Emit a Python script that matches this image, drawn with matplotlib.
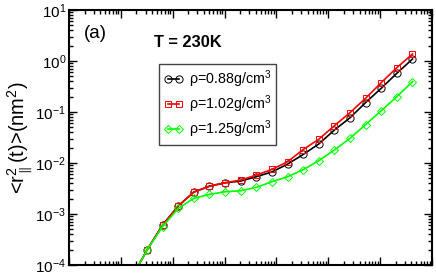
import matplotlib
matplotlib.use("Agg")
import matplotlib.pyplot as plt
from matplotlib.ticker import LogLocator, NullFormatter

plt.rcParams['font.family'] = ['Liberation Sans', 'DejaVu Sans']
plt.rcParams['mathtext.fontset'] = 'custom'
plt.rcParams['mathtext.rm'] = 'Liberation Sans'
plt.rcParams['mathtext.it'] = 'Liberation Sans'
plt.rcParams['mathtext.bf'] = 'Liberation Sans:bold'
plt.rcParams['mathtext.default'] = 'regular'

# time (ps), log spaced by 2
t = [0.016, 0.032, 0.064, 0.128, 0.256, 0.512, 1.024, 2.05, 4.1, 8.2,
     16.4, 32.8, 65.5, 131, 262, 524, 1049, 2097, 4194]

msd_088 = [5.5e-5, 1.97e-4, 6.1e-4, 1.44e-3, 2.7e-3, 3.5e-3, 4.1e-3, 4.43e-3,
           5.4e-3, 6.7e-3, 9.5e-3, 1.47e-2, 2.36e-2, 4.43e-2, 7.7e-2,
           0.153, 0.292, 0.574, 1.09]
msd_102 = [5.5e-5, 1.97e-4, 6.1e-4, 1.44e-3, 2.7e-3, 3.54e-3, 4.1e-3, 4.64e-3,
           5.8e-3, 7.5e-3, 1.06e-2, 1.84e-2, 2.92e-2, 5.4e-2, 9.7e-2,
           0.186, 0.376, 0.74, 1.37]
msd_125 = [5.5e-5, 1.97e-4, 5.7e-4, 1.29e-3, 2.03e-3, 2.43e-3, 2.74e-3, 2.86e-3,
           3.34e-3, 4.3e-3, 5.38e-3, 7.4e-3, 1.11e-2, 1.8e-2, 3.05e-2,
           5.66e-2, 0.106, 0.2, 0.393]

labels = [r'$\rho$=0.88g/cm$^3$', r'$\rho$=1.02g/cm$^3$', r'$\rho$=1.25g/cm$^3$']

fig = plt.figure(figsize=(4.36, 2.75), dpi=100)
ax = fig.add_axes([0.158, 0.036, 0.833, 0.928])

ax.plot(t, msd_088, color='black', lw=1.2, marker='o', ms=5.2, mfc='none',
        mec='black', mew=0.7, label=labels[0])
ax.plot(t, msd_102, color='red', lw=1.2, marker='s', ms=4.6, mfc='none',
        mec='red', mew=0.7, label=labels[1])
ax.plot(t, msd_125, color='#00ff00', lw=1.2, marker='D', ms=3.8, mfc='none',
        mec='#00ff00', mew=0.7, label=labels[2])

ax.set_xscale('log')
ax.set_yscale('log')
ax.set_xlim(1e-3, 1e4)
ax.set_ylim(1e-4, 1e1)

ax.xaxis.set_major_locator(LogLocator(base=10, numticks=20))
ax.xaxis.set_minor_locator(LogLocator(base=10, subs=range(2, 10), numticks=20))
ax.xaxis.set_major_formatter(NullFormatter())
ax.xaxis.set_minor_formatter(NullFormatter())
ax.yaxis.set_major_locator(LogLocator(base=10, numticks=20))
ax.yaxis.set_minor_locator(LogLocator(base=10, subs=range(2, 10), numticks=20))

ax.tick_params(which='both', direction='in', top=True, right=True, width=1)
ax.tick_params(which='major', length=6, labelsize=11, pad=2)
ax.tick_params(which='minor', length=3)
for s in ax.spines.values():
    s.set_linewidth(1.5)

ax.set_ylabel(r'<r$_{\parallel}^{2}$(t)>(nm$^{2}$)', fontsize=14.5, labelpad=0)

ax.text(0.042, 0.906, '(a)', transform=ax.transAxes, fontsize=13.5, va='center')
ax.text(0.235, 0.872, 'T = 230K', transform=ax.transAxes, fontsize=11.8,
        fontweight='bold', va='center')

leg = ax.legend(loc='upper left', bbox_to_anchor=(0.248, 0.788), borderaxespad=0,
                fontsize=10.3, numpoints=2, handlelength=1.4, handletextpad=0.4,
                fancybox=False, framealpha=1, edgecolor='#444444',
                borderpad=0.3, labelspacing=0.25)
leg.get_frame().set_linewidth(1)

fig.savefig('out.png', dpi=100)
